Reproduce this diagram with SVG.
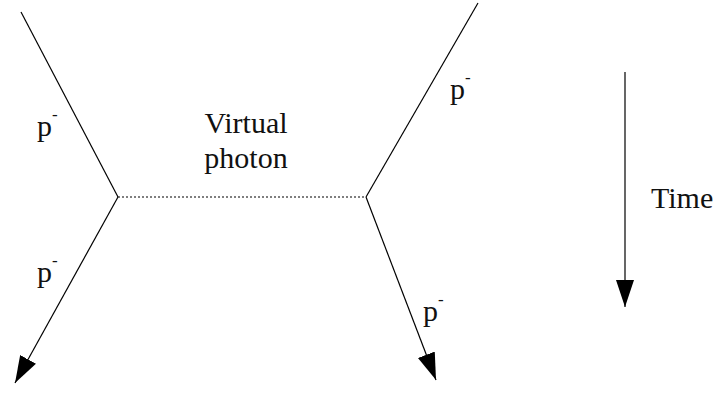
<svg xmlns="http://www.w3.org/2000/svg" width="726" height="398" viewBox="0 0 726 398">
<style>
.ln{stroke:#000;stroke-width:1.2;fill:none}
.dot{stroke:#000;stroke-width:1.2;stroke-dasharray:2 2;fill:none}
.t{font-family:"Liberation Serif",serif;font-size:30px;fill:#111}
.sup{font-size:17px}
</style>
<defs>
<marker id="ah" markerUnits="userSpaceOnUse" markerWidth="30" markerHeight="20" refX="27" refY="9" orient="auto">
<path d="M0,0 L27,9 L0,18 Z" fill="#000"/>
</marker>
</defs>
<rect width="726" height="398" fill="#fff"/>
<g id="connectors">
<line class="ln" x1="21" y1="12" x2="118" y2="197"/>
<line class="ln" x1="118" y1="197" x2="15" y2="383" marker-end="url(#ah)"/>
<line class="dot" x1="118" y1="197" x2="366" y2="197"/>
<line class="ln" x1="478" y1="3" x2="366" y2="197"/>
<line class="ln" x1="366" y1="197" x2="436" y2="380" marker-end="url(#ah)"/>
<line class="ln" x1="625" y1="72" x2="625" y2="307" marker-end="url(#ah)"/>
</g>
<g id="label-p1"><text class="t" style="font-family:'Liberation Serif',serif" x="37" y="136">p<tspan class="sup" dy="-16">-</tspan></text></g>
<g id="label-p2"><text class="t" style="font-family:'Liberation Serif',serif" x="37" y="282">p<tspan class="sup" dy="-16">-</tspan></text></g>
<g id="label-p3"><text class="t" style="font-family:'Liberation Serif',serif" x="450" y="99">p<tspan class="sup" dy="-16">-</tspan></text></g>
<g id="label-p4"><text class="t" style="font-family:'Liberation Serif',serif" x="423" y="321">p<tspan class="sup" dy="-16">-</tspan></text></g>
<g id="label-photon"><text class="t" style="font-family:'Liberation Serif',serif" x="246" y="133" text-anchor="middle">Virtual</text><text class="t" style="font-family:'Liberation Serif',serif" x="246" y="168" text-anchor="middle">photon</text></g>
<g id="label-time"><text class="t" style="font-family:'Liberation Serif',serif" x="651" y="208">Time</text></g>
</svg>
